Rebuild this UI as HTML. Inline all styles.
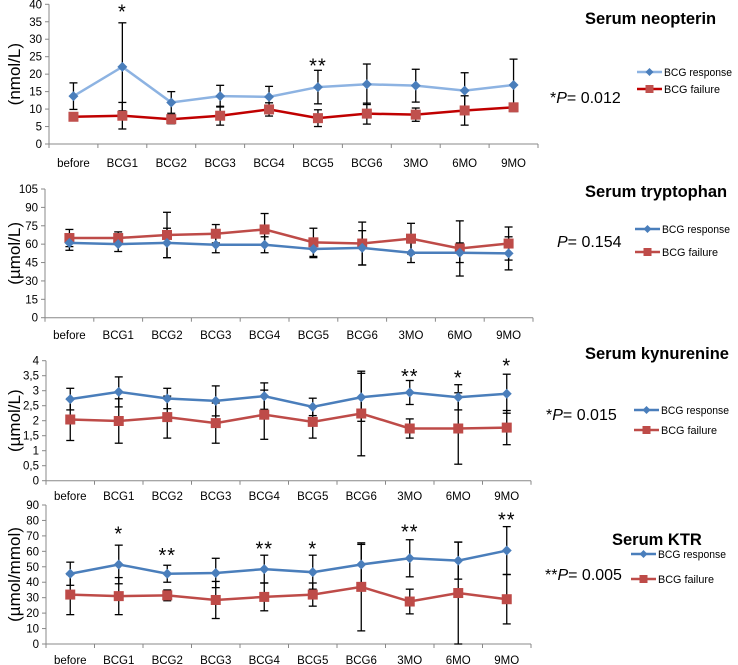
<!DOCTYPE html>
<html><head><meta charset="utf-8">
<style>
html,body{margin:0;padding:0;background:#fff;}
svg{display:block;font-family:"Liberation Sans",sans-serif;}
</style></head>
<body>
<svg id="chart" width="738" height="665" viewBox="0 0 738 665" xmlns="http://www.w3.org/2000/svg"></svg>
<script>
const categories = ["before","BCG1","BCG2","BCG3","BCG4","BCG5","BCG6","3MO","6MO","9MO"];

const neoResp = [13.7,22.1,11.9,13.7,13.5,16.3,17.1,16.7,15.3,16.9];
const neoRespErr = [3.8,12.6,3.1,3.1,3.0,4.8,5.8,4.7,5.1,7.4];
const neoFail = [7.8,8.1,7.1,8.1,9.9,7.4,8.7,8.4,9.6,10.5];
const neoFailErr = [1.0,3.8,1.3,2.7,1.9,2.4,3.0,1.9,4.2,1.2];
const neoTicks = [0,5,10,15,20,25,30,35,40];
const neoStars = ["","*","","","","**","","","",""];
const neoStarVal = [0,38.5,0,0,0,23,0,0,0,0];

const trpResp = [61,60,61,59.5,59.5,56,57,53,53,52.5];
const trpRespErr = [6,6,12,6.5,6.5,7,14,8,8,13.5];
const trpFail = [65,65,67.5,68.5,72,61.5,60.5,64.5,56.5,60.5];
const trpFailErr = [7,5,18.5,7.5,13,11.5,17.5,12.5,22.5,13.5];
const trpTicks = [0,15,30,45,60,75,90,105];
const trpStars = ["","","","","","","","","",""];
const trpStarVal = [0,0,0,0,0,0,0,0,0,0];

const kynResp = [2.72,2.96,2.74,2.66,2.82,2.46,2.78,2.94,2.78,2.9];
const kynRespErr = [0.36,0.5,0.34,0.5,0.44,0.29,0.8,0.4,0.42,0.65];
const kynFail = [2.04,1.99,2.12,1.92,2.2,1.96,2.24,1.74,1.74,1.77];
const kynFailErr = [0.7,0.74,0.7,0.67,0.82,0.54,1.41,0.32,1.19,0.57];
const kynTicks = [0,0.5,1,1.5,2,2.5,3,3.5,4];
const kynTickLabels = ["0","0,5","1","1,5","2","2,5","3","3,5","4"];
const kynStars = ["","","","","","","","**","*","*"];
const kynStarVal = [0,0,0,0,0,0,0,3.55,3.5,3.9];

const ktrResp = [45.5,51.5,45.5,46,48.5,46.5,51.5,55.5,54,60.5];
const ktrRespErr = [7.5,12.5,5.5,9.5,9,11,13,12,12,15.5];
const ktrFail = [32,31,31.5,28.5,30.5,32,37,27.5,33,29];
const ktrFailErr = [13,12,3.5,12,9,7.5,28.5,8,33,16];
const ktrTicks = [0,10,20,30,40,50,60,70,80,90];
const ktrStars = ["","*","**","","**","*","","**","","**"];
const ktrStarVal = [0,73,59,0,63,63,0,74,0,82];

const svg = document.getElementById('chart');
const NS = "http://www.w3.org/2000/svg";
function mk(tag, attrs, parent){
  const e = document.createElementNS(NS, tag);
  for (const k in attrs) e.setAttribute(k, attrs[k]);
  (parent||svg).appendChild(e);
  return e;
}

const panels = [
 {id:"neopterin", x0:49, x1:538, yTop:4.3, yBot:144, max:40, ticks:neoTicks, tl:null, labY:167, ytitle:"(nmol/L)",
  resp:neoResp, respErr:neoRespErr, fail:neoFail, failErr:neoFailErr, stars:neoStars, starVal:neoStarVal,
  respLine:"#8db3e2", respMark:"#4a7ebb", failLine:"#c00000", failMark:"#c0504d",
  title:"Serum neopterin", tx:585, ty:24, ly1:72, ly2:89, lx:637, p:["*","P","= 0.012"], px:550, py:103},
 {id:"tryptophan", x0:45, x1:533, yTop:189, yBot:317.7, max:105, ticks:trpTicks, tl:null, labY:339, ytitle:"(µmol/L)",
  resp:trpResp, respErr:trpRespErr, fail:trpFail, failErr:trpFailErr, stars:trpStars, starVal:trpStarVal,
  respLine:"#4a7ebb", respMark:"#4a7ebb", failLine:"#be4b48", failMark:"#be4b48",
  title:"Serum tryptophan", tx:585, ty:197, ly1:229, ly2:252, lx:635, p:["","P","= 0.154"], px:557, py:247},
 {id:"kynurenine", x0:46, x1:531, yTop:360.7, yBot:480.7, max:4, ticks:kynTicks, tl:kynTickLabels, labY:500, ytitle:"(µmol/L)",
  resp:kynResp, respErr:kynRespErr, fail:kynFail, failErr:kynFailErr, stars:kynStars, starVal:kynStarVal,
  respLine:"#4a7ebb", respMark:"#4a7ebb", failLine:"#be4b48", failMark:"#be4b48",
  title:"Serum kynurenine", tx:585, ty:359, ly1:410, ly2:430, lx:634, p:["*","P","= 0.015"], px:546, py:420},
 {id:"ktr", x0:46, x1:531, yTop:505, yBot:644, max:90, ticks:ktrTicks, tl:null, labY:664, ytitle:"(µmol/mmol)",
  resp:ktrResp, respErr:ktrRespErr, fail:ktrFail, failErr:ktrFailErr, stars:ktrStars, starVal:ktrStarVal,
  respLine:"#4a7ebb", respMark:"#4a7ebb", failLine:"#be4b48", failMark:"#be4b48",
  title:"Serum KTR", tx:612, ty:545, ly1:554, ly2:579, lx:631, p:["**","P","= 0.005"], px:545, py:580}
];

panels.forEach(P => {
  const g = mk('g', {});
  
  
  const step = (P.x1 - P.x0) / categories.length;
  const xs = i => P.x0 + step * (i + 0.5);
  const ys = v => P.yBot - (v / P.max) * (P.yBot - P.yTop);

  const ya = mk('line', {x1:P.x0, y1:P.yTop, x2:P.x0, y2:P.yBot, stroke:"#888", "stroke-width":1}, g);
  
  
  const xa = mk('line', {x1:P.x0, y1:P.yBot, x2:P.x1, y2:P.yBot, stroke:"#888", "stroke-width":1}, g);
  
  
  P.ticks.forEach((t, i) => {
    const y = ys(t);
    mk('line', {x1:P.x0-4, y1:y, x2:P.x0, y2:y, stroke:"#888"}, g);
    const tx = mk('text', {x:P.x0-7, y:y+4, "text-anchor":"end", "font-size":"11.5", fill:"#000"}, g);
    
    
    tx.textContent = P.tl ? P.tl[i] : String(t);
  });
  for (let i = 0; i <= categories.length; i++) {
    const x = P.x0 + step * i;
    mk('line', {x1:x, y1:P.yBot, x2:x, y2:P.yBot+4, stroke:"#888"}, g);
  }
  categories.forEach((c, i) => {
    const t = mk('text', {x:xs(i), y:P.labY, "text-anchor":"middle", "font-size":"11.5", fill:"#000"}, g);
    
    
    t.textContent = c;
  });
  const yt = mk('text', {x:0, y:0, "text-anchor":"middle", "font-size":"17", fill:"#000",
    transform:`translate(20,${(P.yTop+P.yBot)/2}) rotate(-90)`}, g);
  
  
  yt.textContent = P.ytitle;

  function errBars(vals, errs, name){
    vals.forEach((v, i) => {
      const x = xs(i), a = ys(Math.max(0, v - errs[i])), b = ys(v + errs[i]);
      const eg = mk('g', {stroke:"#000", "stroke-width":1.3}, g);
      
      
      mk('line', {x1:x, y1:a, x2:x, y2:b}, eg);
      mk('line', {x1:x-4, y1:a, x2:x+4, y2:a}, eg);
      mk('line', {x1:x-4, y1:b, x2:x+4, y2:b}, eg);
    });
  }
  errBars(P.resp, P.respErr, 'response');
  errBars(P.fail, P.failErr, 'failure');

  function series(vals, line, mark, shape, name){
    const pts = vals.map((v, i) => xs(i) + ',' + ys(v)).join(' ');
    const pl = mk('polyline', {points:pts, fill:"none", stroke:line, "stroke-width":2.5}, g);
    
    
    vals.forEach((v, i) => {
      const x = xs(i), y = ys(v);
      let m;
      if (shape === 'd') m = mk('polygon', {points:`${x},${y-5} ${x+5},${y} ${x},${y+5} ${x-5},${y}`, fill:mark}, g);
      else m = mk('rect', {x:x-5, y:y-5, width:10, height:10, fill:mark}, g);
      
      
    });
  }
  series(P.fail, P.failLine, P.failMark, 's', 'failure');
  series(P.resp, P.respLine, P.respMark, 'd', 'response');

  P.stars.forEach((s, i) => {
    if (!s) return;
    const t = mk('text', {x:xs(i), y:ys(P.starVal[i])+9, "text-anchor":"middle", "font-size":"20", fill:"#000", "letter-spacing":"1"}, g);
    
    
    t.textContent = s;
  });

  const ti = mk('text', {x:P.tx, y:P.ty, "font-size":"16.5", "font-weight":"bold", fill:"#000"}, g);
  
  
  ti.textContent = P.title;

  const lg = mk('g', {}, g);
  
  
  [[P.ly1, P.respLine, P.respMark, 'd', 'BCG response', 68], [P.ly2, P.failLine, P.failMark, 's', 'BCG failure', 56]].forEach(L => {
    const [y, lc, mc, sh, txt, w] = L;
    const x = P.lx;
    mk('line', {x1:x, y1:y, x2:x+25, y2:y, stroke:lc, "stroke-width":2.5}, lg);
    if (sh === 'd') mk('polygon', {points:`${x+12.5},${y-4} ${x+16.5},${y} ${x+12.5},${y+4} ${x+8.5},${y}`, fill:mc}, lg);
    else mk('rect', {x:x+8.5, y:y-4, width:8, height:8, fill:mc}, lg);
    const t = mk('text', {x:x+27, y:y+4, "font-size":"11", fill:"#000", textLength:w, lengthAdjust:"spacingAndGlyphs"}, lg);
    
    
    t.textContent = txt;
  });

  const pt = mk('text', {x:P.px, y:P.py, "font-size":"16", fill:"#000"}, g);
  
  
  const s1 = mk('tspan', {}, pt); s1.textContent = P.p[0];
  const s2 = mk('tspan', {"font-style":"italic"}, pt); s2.textContent = P.p[1];
  const s3 = mk('tspan', {}, pt); s3.textContent = P.p[2];
});
</script>
</body></html>
